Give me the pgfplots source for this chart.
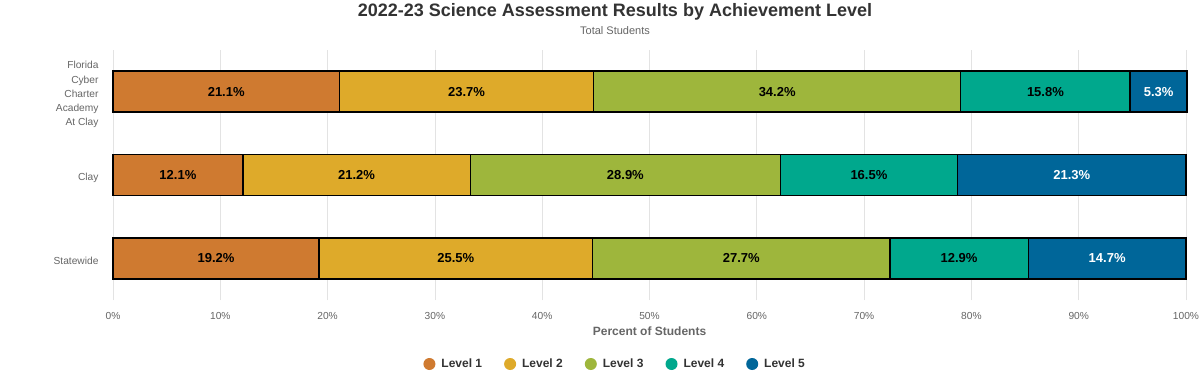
\documentclass[border=0pt]{standalone}
\usepackage{pgfplots}
\pgfplotsset{compat=1.18}
\usepackage{pgfplotstable}
\usepackage{fontspec}
\setmainfont{Liberation Sans}
\definecolor{lone}{HTML}{CF7A30}
\definecolor{ltwo}{HTML}{DEAA2A}
\definecolor{lthree}{HTML}{9EB63C}
\definecolor{lfour}{HTML}{00A88D}
\definecolor{lfive}{HTML}{006699}
\definecolor{textdark}{HTML}{333333}
\definecolor{textgray}{HTML}{666666}
\pgfplotstableread{
y l1 l2 l3 l4 l5
2 21.1 23.7 34.2 15.8 5.3
1 12.1 21.2 28.9 16.5 21.3
0 19.2 25.5 27.7 12.9 14.7
}\data
\pgfplotsset{
  lvl/.style n args={3}{
    fill=#1, draw=black, line width=1.5pt,
    point meta=explicit,
    nodes near coords={\pgfmathprintnumber[fixed,fixed zerofill,precision=1]{\pgfplotspointmeta}\%},
    every node near coord/.append style={anchor=center,
      font=\bfseries\fontsize{13}{15}\selectfont, text=#3},
  }
}
\begin{document}
\begin{tikzpicture}
\useasboundingbox[fill=white] (0,0) rectangle (1204pt,375pt);
\node[font=\bfseries\fontsize{18}{20}\selectfont, text=textdark] at (615pt,363pt) {2022-23 Science Assessment Results by Achievement Level};
\node[font=\fontsize{11}{13}\selectfont, text=textgray] at (615pt,344pt) {Total Students};
\begin{axis}[
  at={(113pt,75pt)}, anchor=south west,
  scale only axis, width=1073pt, height=250pt,
  xbar stacked, bar width=41pt,
  xmin=0, xmax=100, ymin=-0.5, ymax=2.5,
  clip=false,
  axis line style={draw=none},
  major tick length=0pt,
  xmajorgrids, grid style={draw=black!11, line width=0.8pt},
  xtick={0,10,...,100},
  xticklabels={0\%,10\%,20\%,30\%,40\%,50\%,60\%,70\%,80\%,90\%,100\%},
  xticklabel style={font=\fontsize{10.2}{12}\selectfont, text=textgray, yshift=-9pt},
  ytick={0,1,2},
  yticklabels={Statewide,Clay,{Florida\\Cyber\\Charter\\Academy\\At Clay}},
  yticklabel style={align=right, font=\fontsize{10.2}{14.3}\selectfont, text=textgray, xshift=-11pt, yshift=-3pt},
  xlabel={Percent of Students},
  xlabel style={at={(axis description cs:0.5,-0.124)}, anchor=center, font=\bfseries\fontsize{12}{14}\selectfont, text=textgray},
  /pgf/number format/assume math mode=true,
  legend style={at={(0.468,-0.256)}, anchor=center, legend columns=5, draw=none,
    font=\bfseries\fontsize{12}{14}\selectfont, text=textdark,
    /tikz/every odd column/.append style={column sep=4pt},
    /tikz/every even column/.append style={column sep=20pt}},
  legend image code/.code={\path[#1, draw=none] (0pt,0pt) circle (6pt);},
]
\addplot[lvl={lone}{l1}{black}] table[x=l1,y=y,meta=l1]{\data};
\addplot[lvl={ltwo}{l2}{black}] table[x=l2,y=y,meta=l2]{\data};
\addplot[lvl={lthree}{l3}{black}] table[x=l3,y=y,meta=l3]{\data};
\addplot[lvl={lfour}{l4}{black}] table[x=l4,y=y,meta=l4]{\data};
\addplot[lvl={lfive}{l5}{white}] table[x=l5,y=y,meta=l5]{\data};
\legend{Level 1,Level 2,Level 3,Level 4,Level 5}
\end{axis}
\end{tikzpicture}
\end{document}
